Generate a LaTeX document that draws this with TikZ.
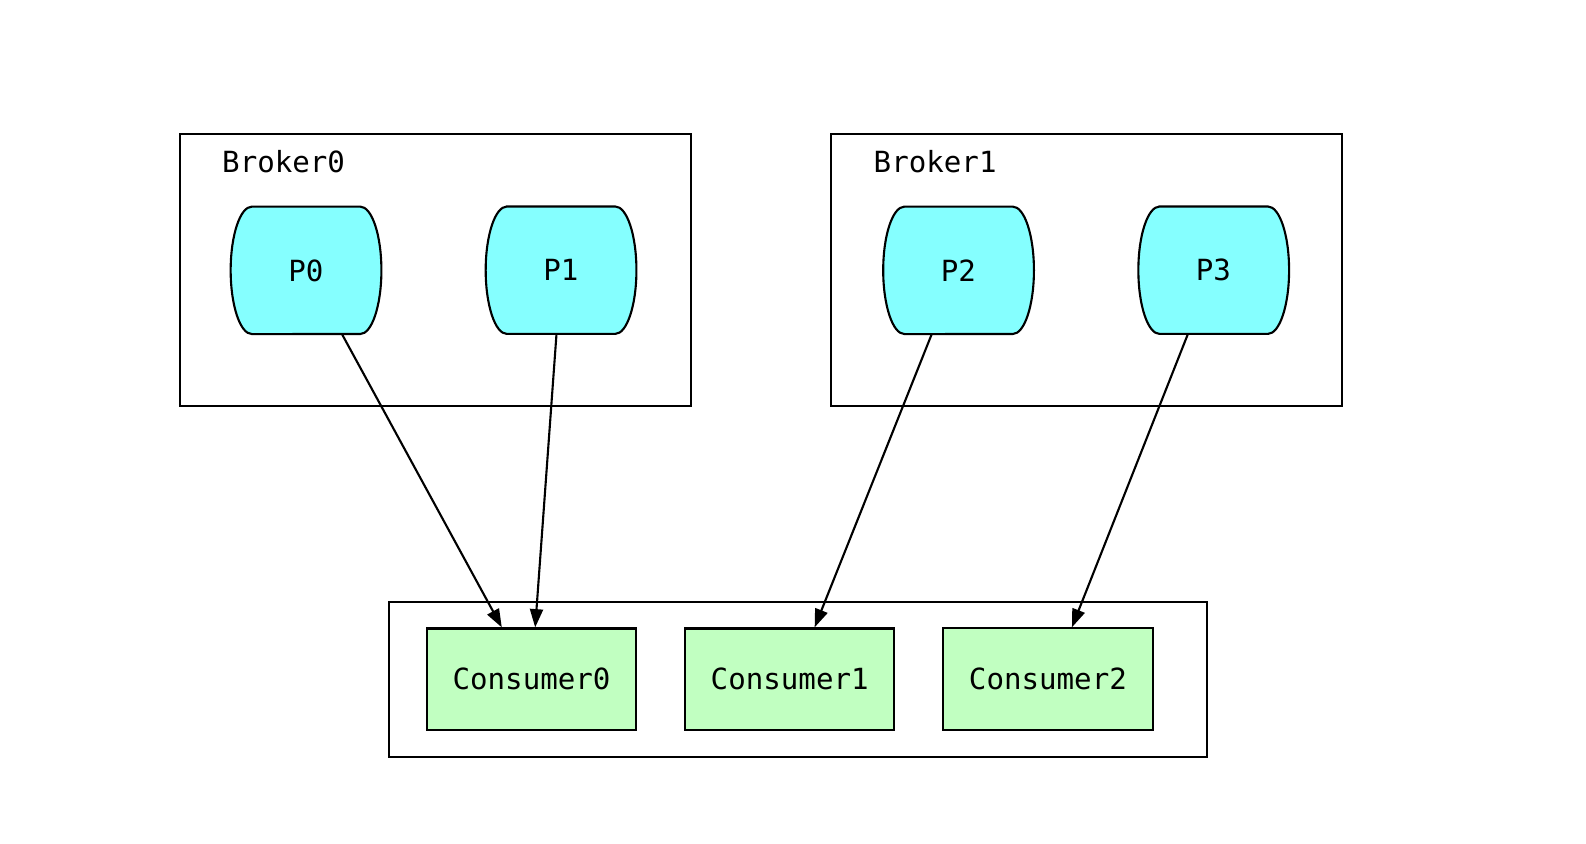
\documentclass[tikz,border=0pt]{standalone}
\usepackage{fontspec}
\setmonofont{DejaVu Sans Mono}
\usepackage{tikz}
\usetikzlibrary{arrows.meta, positioning, calc, backgrounds}
\definecolor{PartCyan}{HTML}{85FFFF}
\definecolor{ConsumerGreen}{HTML}{C1FFC1}
\tikzset{
  clusterbox/.style={rectangle, draw=black, line width=0.6pt, inner sep=0pt},
  brokertext/.style={font=\ttfamily\fontsize{8.2}{10}\selectfont, inner sep=0pt, anchor=west},
  partbox/.style={rectangle, minimum width=1.49cm, minimum height=1.26cm, inner sep=0pt, outer sep=0pt, font=\ttfamily\fontsize{8.2}{10}\selectfont},
  partshape/.style={draw=black, fill=PartCyan, line width=0.6pt},
  consumerbox/.style={rectangle, draw=black, fill=ConsumerGreen, line width=0.6pt, minimum width=2.07cm, minimum height=1cm, inner sep=0pt, font=\ttfamily\fontsize{8.2}{10}\selectfont},
  arrow/.style={-{Triangle[length=5.2pt, width=3.7pt]}, line width=0.6pt}
}

\begin{document}
\begin{tikzpicture}[scale=1.0115, transform shape]
  \useasboundingbox (0,0) rectangle (15.68,8.344);

  % brokers
  \node[clusterbox, minimum width=5.05cm, minimum height=2.69cm] (b0) at (4.305,5.675) {};
  \node[clusterbox, minimum width=5.05cm, minimum height=2.69cm] (b1) at (10.745,5.675) {};
  \node[brokertext] at ($(b0.north west)+(0.42,-0.29)$) {Broker0};
  \node[brokertext] at ($(b1.north west)+(0.42,-0.29)$) {Broker1};

  \node[partbox] (p0) at (3.025,5.67) {P0};
  \node[partbox, right=1.03cm of p0] (p1) {P1};
  \node[partbox] (p2) at (9.475,5.67) {P2};
  \node[partbox, right=1.03cm of p2] (p3) {P3};

  \begin{scope}[on background layer]
    \foreach \p in {p0,p1,p2,p3}
      \draw[partshape] ($(\p.north west)+(0.21,0)$) -- ($(\p.north east)+(-0.21,0)$)
        arc[start angle=90, end angle=-90, x radius=0.21cm, y radius=0.63cm]
        -- ($(\p.south west)+(0.21,0)$)
        arc[start angle=270, end angle=90, x radius=0.21cm, y radius=0.63cm] -- cycle;
  \end{scope}

  % consumer group
  \node[clusterbox, minimum width=8.08cm, minimum height=1.53cm] (grp) at (7.89,1.625) {};
  \node[consumerbox] (c0) at (5.255,1.63) {Consumer0};
  \node[consumerbox, right=0.46cm of c0] (c1) {Consumer1};
  \node[consumerbox, right=0.46cm of c1] (c2) {Consumer2};

  \draw[arrow] ($(p0.south)+(0.355,0)$) -- ($(c0.north)+(-0.295,0)$);
  \draw[arrow] ($(p1.south)+(-0.045,0)$) -- ($(c0.north)+(0.035,0)$);
  \draw[arrow] ($(p2.south)+(-0.265,0)$) -- ($(c1.north)+(0.245,0)$);
  \draw[arrow] ($(p3.south)+(-0.255,0)$) -- ($(c2.north)+(0.235,0)$);
\end{tikzpicture}
\end{document}
